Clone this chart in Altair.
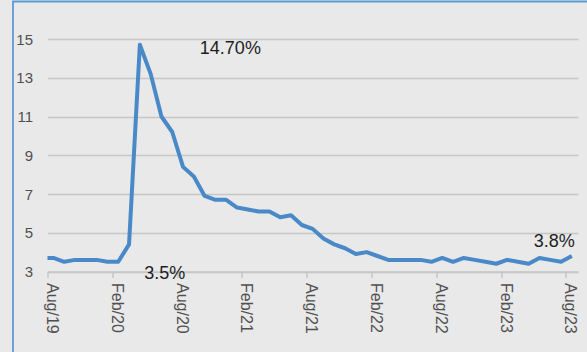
import altair as alt
import pandas as pd

# Monthly unemployment rate (%), Jul 2019 - Aug 2023
months = pd.date_range("2019-07-01", "2023-08-01", freq="MS")
rate = [
    3.7, 3.7, 3.5, 3.6, 3.6, 3.6,                                   # 2019 Jul-Dec
    3.5, 3.5, 4.4, 14.7, 13.2, 11.0, 10.2, 8.4, 7.9, 6.9, 6.7, 6.7,  # 2020
    6.3, 6.2, 6.1, 6.1, 5.8, 5.9, 5.4, 5.2, 4.7, 4.4, 4.2, 3.9,      # 2021
    4.0, 3.8, 3.6, 3.6, 3.6, 3.6, 3.5, 3.7, 3.5, 3.7, 3.6, 3.5,      # 2022
    3.4, 3.6, 3.5, 3.4, 3.7, 3.6, 3.5, 3.8,                          # 2023 Jan-Aug
]
tick_labels = ["Aug/19", "Feb/20", "Aug/20", "Feb/21", "Aug/21",
               "Feb/22", "Aug/22", "Feb/23", "Aug/23"]
y_ticks = [3, 5, 7, 9, 11, 13, 15]

df = pd.DataFrame({"month": months.strftime("%b/%y"), "rate": rate})
# months counted from Aug 2019, each value plotted near mid-month
df["t"] = (months.year - 2019) * 12 + (months.month - 8) + 0.55

FONT = "Liberation Sans"
LINE = "#4a89c8"
GRID = "#c6c6c6"
LABEL = "#505050"

x_scale = alt.Scale(domain=[0, 49.12], nice=False, zero=False)
y_scale = alt.Scale(domain=[3, 15], nice=False, zero=False)

label_array = "[" + ",".join(f"'{s}'" for s in tick_labels) + "]"

x_axis = alt.Axis(
    values=list(range(0, 49, 6)), labelExpr=f"{label_array}[round(datum.value/6)]",
    title=None, grid=False, domain=True, domainColor=GRID, domainWidth=1.5,
    ticks=True, tickColor=GRID, tickSize=6, tickWidth=1.5,
    labelAngle=90, labelAlign="left", labelBaseline="middle", labelPadding=5,
    labelOffset=4, labelFontSize=16, labelColor=LABEL, labelFont=FONT,
    labelOverlap=False, labelFlush=False,
)
y_axis = alt.Axis(
    values=y_ticks, title=None, grid=True, gridColor=GRID, gridWidth=1.5,
    domain=False, ticks=False, labelPadding=15, labelFontSize=15,
    labelColor=LABEL, labelFont=FONT, labelOverlap=False, labelFlush=False,
)

x_enc = alt.X("t:Q", scale=x_scale, axis=x_axis)
y_enc = alt.Y("rate:Q", scale=y_scale, axis=y_axis)

line = alt.Chart(df).mark_line(color=LINE, strokeWidth=4, strokeJoin="round",
                               clip=True).encode(x=x_enc, y=y_enc)

peak = df.loc[df["rate"].idxmax()]
trough = df.loc[df["month"] == "Feb/20"].iloc[0]
last = df.iloc[-1]


def note(row, text, **kw):
    d = pd.DataFrame({"t": [row["t"]], "rate": [row["rate"]], "label": [text]})
    return alt.Chart(d).mark_text(font=FONT, fontSize=18, color="#1e1e1e",
                                  baseline="middle", **kw).encode(
        x=x_enc, y=y_enc, text="label:N")


ann_peak = note(peak, f"{peak['rate']:.2f}%", align="left", dx=60, dy=4)
ann_low = note(trough, f"{trough['rate']:.1f}%", align="left", dx=26, dy=12)
ann_last = note(last, f"{last['rate']:.1f}%", align="right", dx=3, dy=-14)

# blue outline of the chart box
frame = alt.Chart(alt.Data(values=[{}])).mark_rect(
    filled=False, stroke="#5b9bd5", strokeWidth=1.8).encode(
    x=alt.value(-34.5), x2=alt.value(600), y=alt.value(-37.5), y2=alt.value(400))

chart = alt.layer(frame, line, ann_peak, ann_low, ann_last).properties(
    width=530.5, height=232.5,
    padding={"left": 47.5, "top": 39, "right": 9, "bottom": 80.5},
    autosize=alt.AutoSizeParams(type="none"),
    background="#e9e9e9",
).configure_view(stroke=None)

chart.save("out.html", embed_options={"renderer": "svg", "actions": False})
